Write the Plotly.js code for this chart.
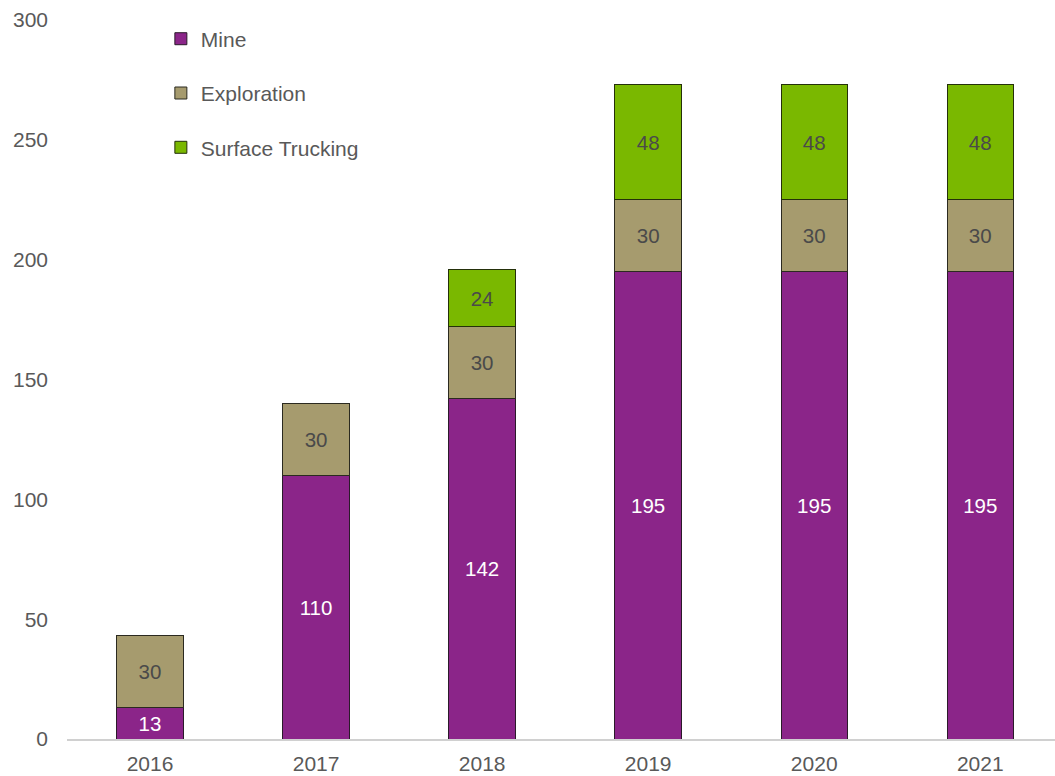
<!DOCTYPE html>
<html>
<head>
<meta charset="utf-8">
<script src="https://cdn.plot.ly/plotly-3.0.1.min.js"></script>
<style>html,body{margin:0;padding:0;background:#fff;}#chart{width:1055px;height:776px;}</style>
</head>
<body>
<div id="chart"></div>
<script>
const years = ["2016", "2017", "2018", "2019", "2020", "2021"];
const mine = [13, 110, 142, 195, 195, 195];
const exploration = [30, 30, 30, 30, 30, 30];
const trucking = [null, null, 24, 48, 48, 48];
const yTicks = [0, 50, 100, 150, 200, 250, 300];

function lbl(arr){ return arr.map(v => v == null ? "" : String(v)); }

const fontFam = "Liberation Sans, Arial, sans-serif";
const common = {
  type: "bar", x: years, width: 0.4,
  textposition: "inside", insidetextanchor: "middle",
  constraintext: "none", hoverinfo: "skip"
};
const traces = [
  Object.assign({}, common, {name: "Mine", y: mine, text: lbl(mine), legendgroup: "a",
    marker: {color: "#8B2589", line: {color: "#2b1a2a", width: 1}},
    textfont: {color: "#ffffff", size: 20.5, family: fontFam}}),
  Object.assign({}, common, {name: "Exploration", y: exploration, text: lbl(exploration), legendgroup: "b",
    marker: {color: "#A69B6E", line: {color: "#2b2a20", width: 1}},
    textfont: {color: "#4a4a4a", size: 20.5, family: fontFam}}),
  Object.assign({}, common, {name: "Surface Trucking", y: trucking, text: lbl(trucking), legendgroup: "c",
    marker: {color: "#7AB800", line: {color: "#24300a", width: 1}},
    textfont: {color: "#4a4a4a", size: 20.5, family: fontFam}})
];

const layout = {
  width: 1055, height: 776,
  margin: {l: 67, r: 0, t: 20, b: 37},
  barmode: "stack",
  paper_bgcolor: "#fff", plot_bgcolor: "#fff",
  font: {family: fontFam, color: "#595959", size: 21},
  showlegend: true,
  legend: {x: 0.095, y: 1.002, xanchor: "left", yanchor: "top",
    traceorder: "grouped", tracegroupgap: 24,
    font: {size: 21, color: "#595959", family: fontFam}, bgcolor: "rgba(0,0,0,0)"},
  xaxis: {type: "category", range: [-0.5, 5.45], showgrid: false, zeroline: false,
    showline: true, linecolor: "#d0d0d0", linewidth: 2, ticks: "",
    ticklabelstandoff: 5,
    tickfont: {size: 21, color: "#595959"}},
  yaxis: {range: [0, 300], tickvals: yTicks, ticktext: yTicks.map(String),
    showgrid: false, zeroline: false, showline: false, ticks: "",
    ticklabelstandoff: 18, tickfont: {size: 21, color: "#595959"}}
};

Plotly.newPlot("chart", traces, layout, {displayModeBar: false, staticPlot: true});
</script>
</body>
</html>
